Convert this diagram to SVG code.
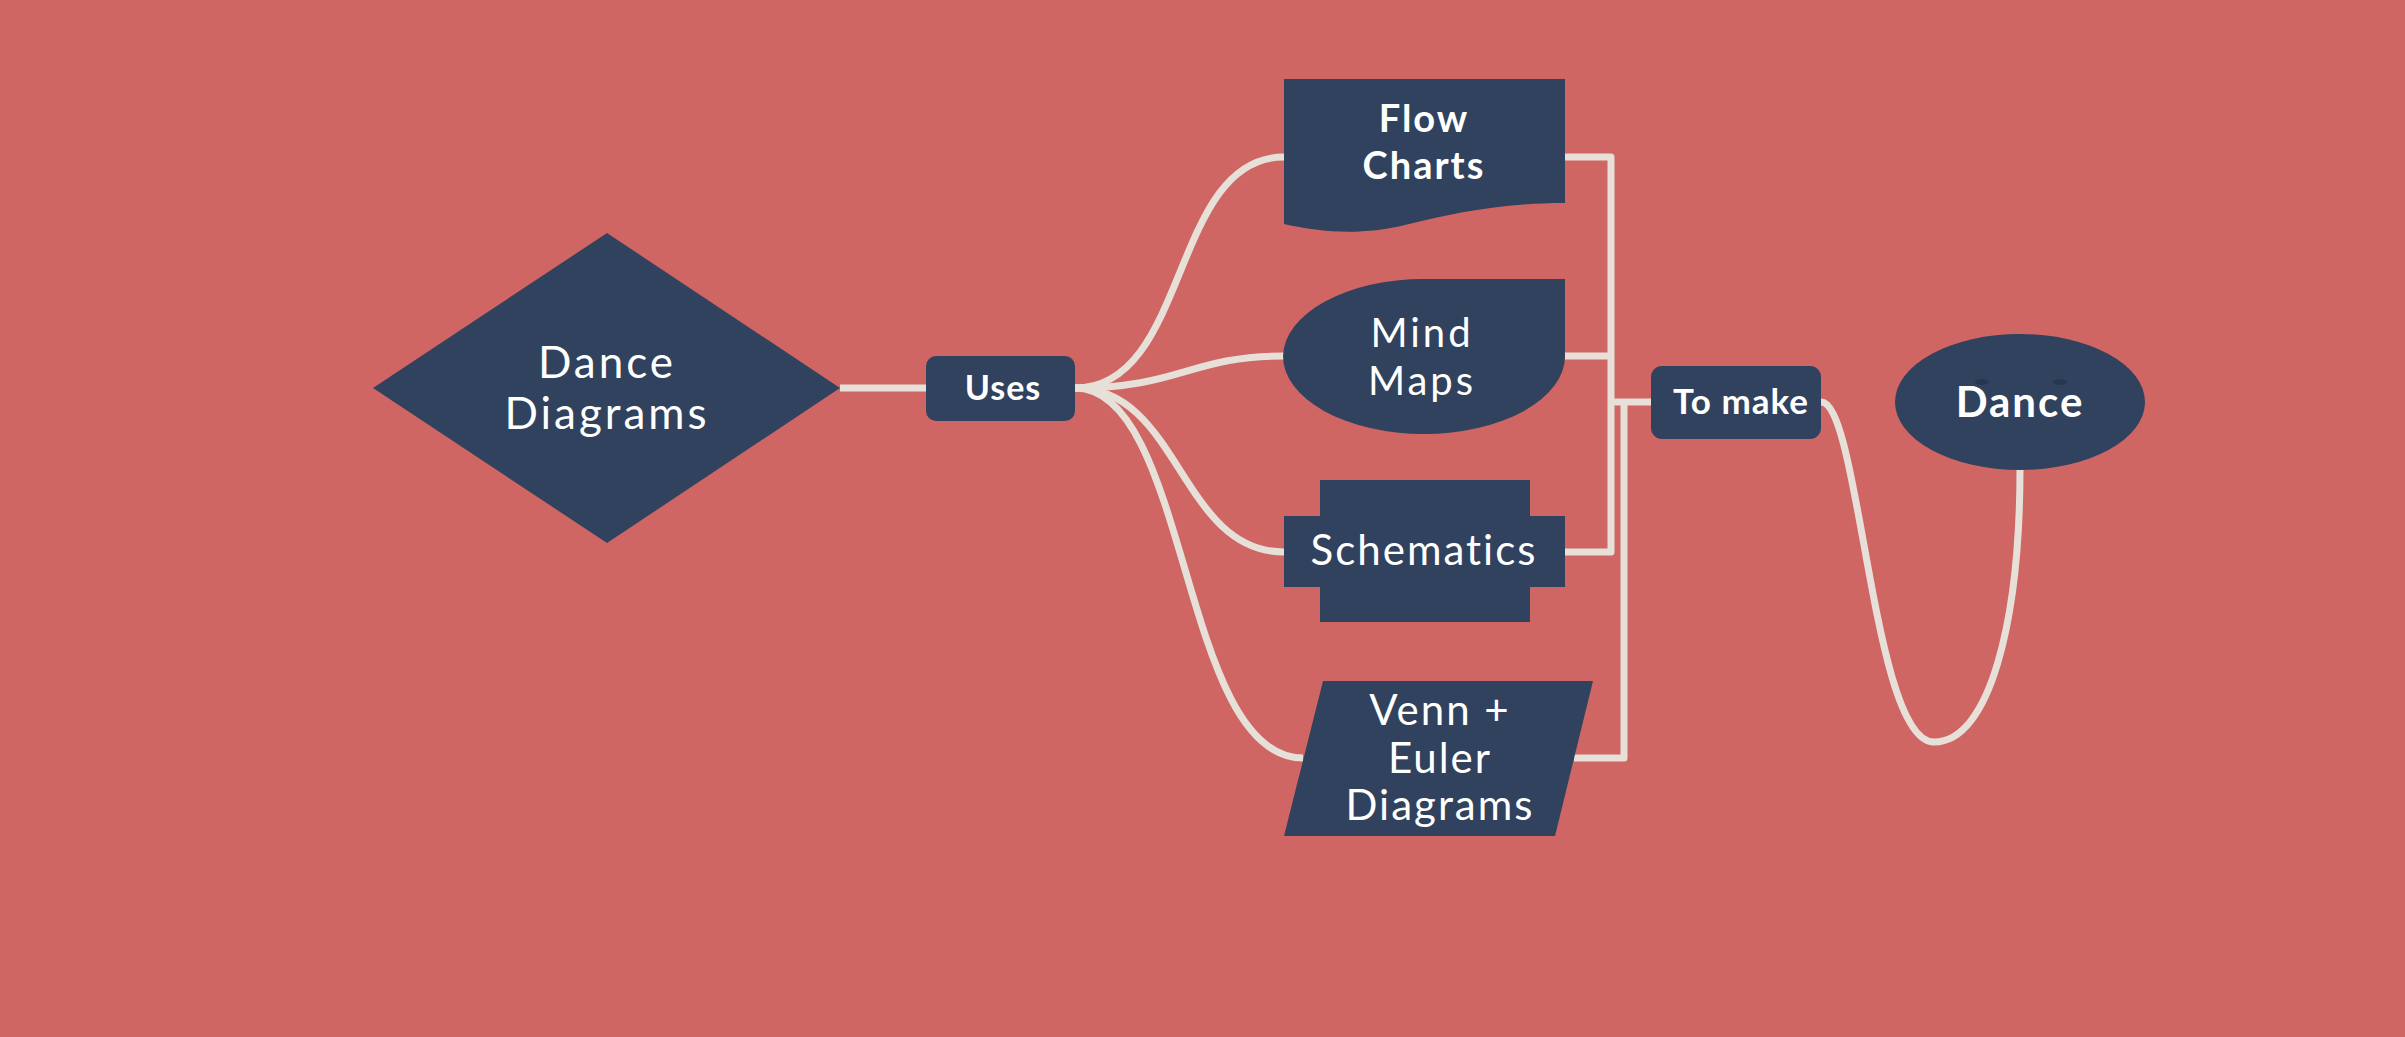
<svg xmlns="http://www.w3.org/2000/svg" width="2405" height="1037" viewBox="0 0 2405 1037">
  <style>
    .node { fill: #30425e; }
    .link { fill: none; stroke: #e6e0d8; stroke-width: 7; stroke-linejoin: round; stroke-linecap: butt; }
    .label { fill: #ffffff; font-family: Lato, "Noto Sans", sans-serif; text-anchor: middle; }
    .bold { font-weight: 700; }
  </style>

  <rect x="0" y="0" width="2405" height="1037" fill="#cf6664"/>

  <!-- connectors -->
  <g id="connectors">
    <path class="link" d="M840,388 H926"/>
    <path class="link" d="M1075,388 C1190,388 1170,157 1284,157"/>
    <path class="link" d="M1075,388 C1180,388 1190,356 1284,356"/>
    <path class="link" d="M1075,388 C1180,388 1180,552 1284,552"/>
    <path class="link" d="M1075,388 C1190,388 1180,758 1303,758"/>
    <path class="link" d="M1565,157 H1611 V552 H1565"/>
    <path class="link" d="M1565,356 H1611"/>
    <path class="link" d="M1611,402 H1652"/>
    <path class="link" d="M1624,405 V758 H1574"/>
    <path class="link" d="M1821,402 C1860,402 1872,742 1934,742 C1990,742 2020,620 2020,468"/>
  </g>

  <g id="dance-diagrams">
    <polygon class="node" points="373,388 607,233 840,388 607,543"/>
    <text class="label" x="607" y="378" font-size="44" letter-spacing="3">Dance</text>
    <text class="label" x="607" y="429" font-size="44" letter-spacing="3">Diagrams</text>
  </g>

  <g id="uses">
    <rect class="node" x="926" y="356" width="149" height="65" rx="10"/>
    <text class="label bold" x="1003" y="400" font-size="34" letter-spacing="1">Uses</text>
  </g>

  <g id="flow-charts">
    <path class="node" d="M1284,79 H1565 V203 C1500,203 1450,214 1405,225 C1360,236 1320,232 1284,224 Z"/>
    <text class="label bold" x="1424" y="132" font-size="38" letter-spacing="2">Flow</text>
    <text class="label bold" x="1424" y="179" font-size="38" letter-spacing="2">Charts</text>
  </g>

  <g id="mind-maps">
    <path class="node" d="M1424,279 H1565 V356 A141,78 0 0 1 1424,434 A141,78 0 0 1 1283,356 A141,78 0 0 1 1424,279 Z"/>
    <text class="label" x="1422" y="347" font-size="40" letter-spacing="3">Mind</text>
    <text class="label" x="1422" y="395" font-size="40" letter-spacing="3">Maps</text>
  </g>

  <g id="schematics">
    <rect class="node" x="1320" y="480" width="210" height="142"/>
    <rect class="node" x="1284" y="516" width="281" height="71"/>
    <text class="label" x="1424" y="565" font-size="42" letter-spacing="2">Schematics</text>
  </g>

  <g id="venn-euler">
    <polygon class="node" points="1323,681 1593,681 1555,836 1284,836"/>
    <text class="label" x="1440" y="725" font-size="42" letter-spacing="2">Venn +</text>
    <text class="label" x="1440" y="773" font-size="42" letter-spacing="2">Euler</text>
    <text class="label" x="1440" y="820" font-size="42" letter-spacing="2">Diagrams</text>
  </g>

  <g id="to-make">
    <rect class="node" x="1651" y="366" width="170" height="73" rx="11"/>
    <text class="label bold" x="1741" y="414" font-size="35" letter-spacing="1">To make</text>
  </g>

  <g id="dance">
    <ellipse class="node" cx="2020" cy="402" rx="125" ry="68"/>
    <ellipse cx="1982" cy="382" rx="7" ry="3" fill="#263750"/>
    <ellipse cx="2060" cy="382" rx="7" ry="3" fill="#263750"/>
    <text class="label bold" x="2020" y="417" font-size="42" letter-spacing="2">Dance</text>
  </g>
</svg>
